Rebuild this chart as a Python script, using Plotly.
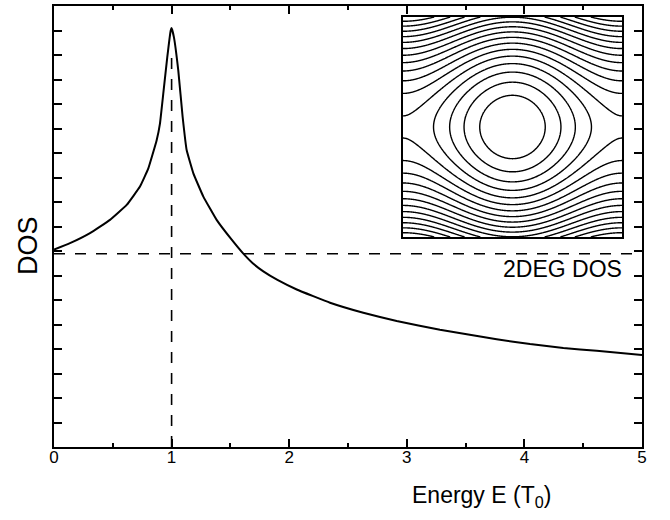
import numpy as np
import plotly.graph_objects as go

# ---- data ----
energy = [0.00, 0.136, 0.306, 0.476, 0.618, 0.731, 0.802, 0.873, 0.901, 0.929, 0.963, 0.992, 1.000,
          1.020, 1.057, 1.094, 1.128, 1.185, 1.270, 1.383, 1.511, 1.610, 1.690, 1.780, 1.900, 2.064,
          2.347, 2.630, 2.914, 3.282, 3.764, 4.048, 4.331, 4.615, 5.000]
dos = [8.06, 8.32, 8.73, 9.27, 9.88, 10.63, 11.37, 12.52, 13.20, 14.41, 15.90, 16.99, 17.10,
       16.72, 15.36, 13.47, 12.12, 11.17, 10.22, 9.27, 8.46, 7.89, 7.50, 7.17, 6.82, 6.43,
       5.89, 5.48, 5.14, 4.79, 4.40, 4.20, 4.04, 3.93, 3.76]
dos_2deg = 7.89
peak_energy = 1.0
peak_dos = 17.1
x_ticks = [0, 1, 2, 3, 4, 5]
x_tick_labels = ["0", "1", "2", "3", "4", "5"]

# inset: phase portrait contour levels (orbit energies)
orbit_level_start = 0.41
orbit_level_step = 0.41
orbit_level_end = 7.0

FONT = "Liberation Sans, Arial, sans-serif"

fig = go.Figure()

# dashed reference lines
fig.add_trace(go.Scatter(x=[0, 5], y=[dos_2deg, dos_2deg], mode="lines",
                         line=dict(color="black", width=1.6, dash="11px,10px"),
                         hoverinfo="skip", showlegend=False))
fig.add_trace(go.Scatter(x=[peak_energy, peak_energy], y=[0, peak_dos - 1.0], mode="lines",
                         line=dict(color="black", width=1.6, dash="11px,10px"),
                         hoverinfo="skip", showlegend=False))

# DOS curve
fig.add_trace(go.Scatter(x=energy, y=dos, mode="lines",
                         line=dict(color="black", width=2, shape="spline", smoothing=0.3),
                         showlegend=False))

# inset phase portrait
q = np.linspace(-np.pi, np.pi, 401)
p = np.linspace(-np.pi, np.pi, 401)
Q, P = np.meshgrid(q, p)
H = P ** 2 / 2 + (1 - np.cos(Q))
fig.add_trace(go.Contour(x=q, y=p, z=H, xaxis="x2", yaxis="y2",
                         contours=dict(coloring="lines", start=orbit_level_start,
                                       end=orbit_level_end, size=orbit_level_step),
                         colorscale=[[0, "black"], [1, "black"]],
                         line=dict(width=1.4), showscale=False, hoverinfo="skip"))

fig.update_layout(
    width=670, height=520,
    margin=dict(l=54, r=28, t=4, b=73),
    paper_bgcolor="white", plot_bgcolor="white",
    font=dict(family=FONT, color="black", size=17),
    xaxis=dict(range=[0, 5], tickvals=x_ticks, ticktext=x_tick_labels,
               ticks="inside", ticklen=8, tickwidth=1.5, tickcolor="black",
               showline=True, linecolor="black", linewidth=2, mirror="ticks",
               showgrid=False, zeroline=False, ticklabelstandoff=-6,
               minor=dict(dtick=0.5, ticks="inside", ticklen=4, tickwidth=1.5, tickcolor="black",
                          showgrid=False),
               tickfont=dict(size=17, family=FONT)),
    yaxis=dict(range=[0, 18], dtick=1, tick0=0, showticklabels=False,
               ticks="inside", ticklen=8, tickwidth=1.5, tickcolor="black",
               showline=True, linecolor="black", linewidth=2, mirror="ticks",
               showgrid=False, zeroline=False),
    xaxis2=dict(domain=[0.5935, 0.966], anchor="y2", range=[-np.pi, np.pi],
                showticklabels=False, ticks="", showgrid=False, zeroline=False,
                showline=True, linecolor="black", linewidth=2, mirror=True),
    yaxis2=dict(domain=[0.4763, 0.975], anchor="x2", range=[-np.pi, np.pi],
                showticklabels=False, ticks="", showgrid=False, zeroline=False,
                showline=True, linecolor="black", linewidth=2, mirror=True),
    annotations=[
        dict(text="Energy E (T<sub>0</sub>)", xref="paper", yref="paper",
             x=(481 - 54) / 588, y=(447 - 497) / 443, xanchor="center", yanchor="middle",
             showarrow=False, font=dict(size=23, family=FONT)),
        dict(text="DOS", xref="paper", yref="paper",
             x=(28 - 54) / 588, y=(447 - 245) / 443, xanchor="center", yanchor="middle",
             textangle=-90, showarrow=False, font=dict(size=27, family=FONT)),
        dict(text="2DEG DOS", xref="paper", yref="paper",
             x=(624 - 54) / 588, y=(447 - 268) / 443, xanchor="right", yanchor="middle",
             showarrow=False, font=dict(size=23, family=FONT)),
    ],
)

fig.write_html("out.html")
